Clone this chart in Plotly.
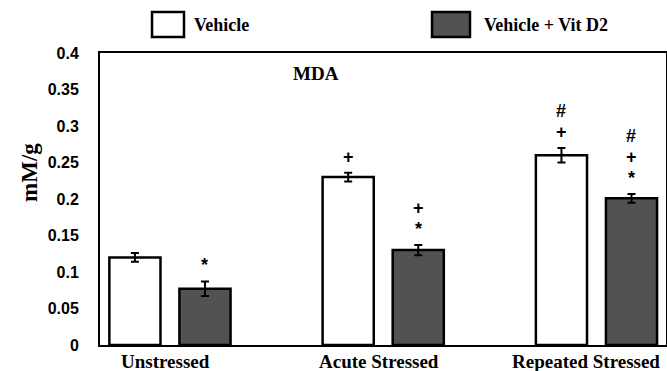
import plotly.graph_objects as go

categories = ["Unstressed", "Acute Stressed", "Repeated Stressed"]
series_names = ["Vehicle", "Vehicle + Vit D2"]
vehicle = [0.12, 0.23, 0.26]
vehicle_err = [0.006, 0.006, 0.01]
vitd2 = [0.077, 0.13, 0.201]
vitd2_err = [0.01, 0.007, 0.006]
vehicle_marks = [[], ["+"], ["+", "#"]]
vitd2_marks = [["*"], ["*", "+"], ["*", "+", "#"]]
y_ticks = [0, 0.05, 0.1, 0.15, 0.2, 0.25, 0.3, 0.35, 0.4]
y_ticktext = ["0", "0.05", "0.1", "0.15", "0.2", "0.25", "0.3", "0.35", "0.4"]
chart_title = "MDA"
y_title = "mM/g"

fill_colors = ["white", "#525252"]
serif = "Liberation Serif, Times New Roman, serif"
sans = "Liberation Sans, Arial, sans-serif"

fig = go.Figure()
for name, vals, errs, col in [(series_names[0], vehicle, vehicle_err, fill_colors[0]),
                              (series_names[1], vitd2, vitd2_err, fill_colors[1])]:
    fig.add_trace(go.Bar(
        x=categories, y=vals, name=name,
        marker=dict(color=col, line=dict(color="black", width=2.5)),
        error_y=dict(type="data", array=errs, visible=True, color="black", thickness=2, width=4),
    ))

# significance marks
offset_px = 35
for series_idx, (vals, errs, marks) in enumerate([(vehicle, vehicle_err, vehicle_marks),
                                                   (vitd2, vitd2_err, vitd2_marks)]):
    xs = -offset_px if series_idx == 0 else offset_px
    for ci, cat in enumerate(categories):
        for k, m in enumerate(marks[ci]):
            fig.add_annotation(
                x=ci, y=vals[ci] + errs[ci], xref="x", yref="y",
                text="<b>%s</b>" % m, showarrow=False, xshift=xs, xanchor="center", yanchor="middle",
                yshift=16 + 21 * k, font=dict(family=sans, size=18, color="black"),
            )

# category labels (slightly shifted left like the original, last one kept inside the frame)
label_xshift = [-4, -4, -10]
for ci, cat in enumerate(categories):
    fig.add_annotation(x=cat, y=0, xref="x", yref="paper", text="<b>%s</b>" % cat,
                       showarrow=False, xanchor="center", yanchor="middle", xshift=label_xshift[ci],
                       yshift=-16, font=dict(family=serif, size=19, color="black"))

fig.add_annotation(x=0.3816, y=0.9315, xref="paper", yref="paper", text="<b>%s</b>" % chart_title,
                   showarrow=False, xanchor="center", yanchor="middle",
                   font=dict(family=serif, size=19, color="black"))
fig.add_annotation(x=-0.1237, y=0.5925, xref="paper", yref="paper", text="<b>%s</b>" % y_title,
                   showarrow=False, textangle=-90, xanchor="center", yanchor="middle",
                   font=dict(family=serif, size=23, color="black"))

# legend drawn manually
legend_boxes = [(0.0919, 0.1484), (0.5866, 0.6537)]
legend_text_x = [0.1625, 0.675]
for i in range(2):
    x0, x1 = legend_boxes[i]
    fig.add_shape(type="rect", xref="paper", yref="paper", x0=x0, x1=x1, y0=1.055, y1=1.140,
                  fillcolor=fill_colors[i], line=dict(color="black", width=2.5))
    fig.add_annotation(x=legend_text_x[i], y=1.095, xref="paper", yref="paper",
                       text="<b>%s</b>" % series_names[i], showarrow=False, xanchor="left",
                       yanchor="middle", font=dict(family=serif, size=18, color="black"))

fig.update_layout(
    width=667, height=371,
    margin=dict(l=100, r=1, t=53, b=26),
    plot_bgcolor="white", paper_bgcolor="white",
    barmode="group", bargap=0.343, bargroupgap=0.27,
    showlegend=False,
    xaxis=dict(type="category", range=[-0.328, 2.326], showline=True, linecolor="black", linewidth=2,
               mirror=True, ticks="", showgrid=False, showticklabels=False, automargin=False),
    yaxis=dict(range=[0, 0.4], tickvals=y_ticks, ticktext=y_ticktext, showline=True, linecolor="black",
               linewidth=2, mirror=True, ticks="", showgrid=False, zeroline=False, ticklabelstandoff=16,
               automargin=False,
               tickfont=dict(family=sans, size=16, color="black", weight="bold")),
)

fig.write_html("out.html", config={"displayModeBar": False},
               post_script="document.body.style.margin='0';")
